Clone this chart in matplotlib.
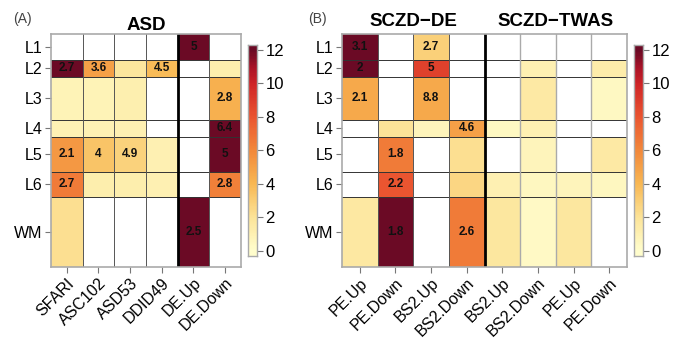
import numpy as np
import matplotlib
matplotlib.use('Agg')
import matplotlib.pyplot as plt
from matplotlib.colors import LinearSegmentedColormap

plt.rcParams['font.family'] = ['Liberation Sans', 'DejaVu Sans']

#capes corticals i gruix relatiu de cada fila
capes = ['L1', 'L2', 'L3', 'L4', 'L5', 'L6', 'WM']
gruix = [26, 17, 43, 17, 35, 25, 70]

#panell A: conjunts de gens ASD
cols_asd = ['SFARI', 'ASC102', 'ASD53', 'DDID49', 'DE.Up', 'DE.Down']
color_asd = [
    [np.nan, np.nan, np.nan, np.nan, 12, np.nan],
    [12, 5.0, 1.8, 3.8, np.nan, 1.2],
    [0.8, 0.8, 1.1, np.nan, np.nan, 4.3],
    [0.9, 0.9, 1.0, np.nan, np.nan, 12],
    [5.3, 3.4, 2.8, 1.0, np.nan, 12],
    [6.5, 1.2, 1.2, 1.0, np.nan, 6.3],
    [2.2, np.nan, np.nan, np.nan, 12, np.nan],
]
text_asd = [
    ['', '', '', '', '5', ''],
    ['2.7', '3.6', '', '4.5', '', ''],
    ['', '', '', '', '', '2.8'],
    ['', '', '', '', '', '6.4'],
    ['2.1', '4', '4.9', '', '', '5'],
    ['2.7', '', '', '', '', '2.8'],
    ['', '', '', '', '2.5', ''],
]

#panell B: SCZD-DE (4 primeres columnes) i SCZD-TWAS (4 darreres)
cols_sczd = ['PE.Up', 'PE.Down', 'BS2.Up', 'BS2.Down',
             'BS2.Up', 'BS2.Down', 'PE.Up', 'PE.Down']
color_sczd = [
    [12, np.nan, 2.9, np.nan, np.nan, np.nan, np.nan, np.nan],
    [12, np.nan, 8.8, np.nan, np.nan, 1.0, np.nan, 1.3],
    [4.6, np.nan, 4.6, np.nan, np.nan, 1.5, np.nan, 0.4],
    [np.nan, 2.0, 0.7, 5.0, 0.4, 1.0, np.nan, np.nan],
    [np.nan, 6.5, np.nan, 2.2, np.nan, 0.7, np.nan, 1.5],
    [np.nan, 8.0, np.nan, 2.6, 1.0, 0.5, 0.7, 0.5],
    [1.6, 12, np.nan, 6.5, 1.7, 0.3, 1.7, np.nan],
]
text_sczd = [
    ['3.1', '', '2.7', '', '', '', '', ''],
    ['2', '', '5', '', '', '', '', ''],
    ['2.1', '', '8.8', '', '', '', '', ''],
    ['', '', '', '4.6', '', '', '', ''],
    ['', '1.8', '', '', '', '', '', ''],
    ['', '2.2', '', '', '', '', '', ''],
    ['', '1.8', '', '2.6', '', '', '', ''],
]

ticks_cbar = [0, 2, 4, 6, 8, 10, 12]

#escala de colors groc -> vermell fosc
nodes = [0, 2, 4, 6, 8, 10, 11, 12]
colors = ['#fffdcc', '#fce397', '#f8b752', '#f2883b', '#ea5530', '#cf2427', '#a81227', '#6b0a25']
cmap = LinearSegmentedColormap.from_list('ylord', [(v / 12, c) for v, c in zip(nodes, colors)])
cmap.set_bad('white')

vores_y = np.concatenate([[0], np.cumsum(gruix)])
centres_y = (vores_y[:-1] + vores_y[1:]) / 2


def dibuixa_heatmap(ax, valors, textos, columnes, gris_dreta=False):
    valors = np.ma.masked_invalid(np.array(valors, dtype=float))
    ncol = len(columnes)
    ax.pcolormesh(np.arange(ncol + 1), vores_y, valors, cmap=cmap, vmin=0, vmax=12)
    ax.set_xlim(0, ncol)
    ax.set_ylim(vores_y[-1], 0)

    #línies de separació
    for y in vores_y[1:-1]:
        ax.plot([0, ncol], [y, y], color='#333333', lw=0.7)
    for x in range(1, ncol):
        c, w = '#555555', 0.7
        if gris_dreta and x > 4:
            c, w = '#aaaaaa', 1.0
        ax.plot([x, x], [0, vores_y[-1]], color=c, lw=w)
    ax.plot([4, 4], [0, vores_y[-1]], color='black', lw=2)

    for i, fila in enumerate(textos):
        for j, t in enumerate(fila):
            if t:
                ax.text(j + 0.5, centres_y[i], t, ha='center', va='center',
                        fontsize=8.5, fontweight='bold', color='#111111')

    ax.set_yticks(centres_y)
    ax.set_yticklabels(capes, fontsize=11.5)
    ax.set_xticks(np.arange(ncol) + 0.5)
    ax.set_xticklabels(columnes, rotation=45, ha='right', va='top',
                       rotation_mode='anchor', fontsize=11.5)
    ax.tick_params(length=4, color='#777777', width=0.8, pad=2)
    for s in ax.spines.values():
        s.set_color('#aaaaaa')
        s.set_linewidth(1.2)


def dibuixa_cbar(ax):
    grad = np.linspace(-0.3, 12.3, 200).reshape(-1, 1)
    ax.pcolormesh([0, 1], np.linspace(-0.3, 12.3, 201), grad, cmap=cmap, vmin=0, vmax=12)
    ax.set_ylim(-0.3, 12.3)
    ax.set_xlim(0, 1)
    ax.set_xticks([])
    ax.yaxis.tick_right()
    ax.set_yticks(ticks_cbar)
    ax.set_yticklabels([str(t) for t in ticks_cbar], fontsize=12)
    ax.tick_params(length=4, color='#777777', width=0.8, pad=2)
    for s in ax.spines.values():
        s.set_color('#aaaaaa')
        s.set_linewidth(1.0)


fig = plt.figure(figsize=(6.79, 3.42), dpi=100)

ax_a = fig.add_axes([0.0751, 0.2193, 0.2798, 0.6813])
dibuixa_heatmap(ax_a, color_asd, text_asd, cols_asd)
ax_a.set_title('ASD', fontsize=13.5, fontweight='bold', pad=3)

ax_b = fig.add_axes([0.5037, 0.2193, 0.4197, 0.6813])
dibuixa_heatmap(ax_b, color_sczd, text_sczd, cols_sczd, gris_dreta=True)
ax_b.text(2, -4, 'SCZD\u2212DE', ha='center', va='bottom', fontsize=13.5, fontweight='bold')
ax_b.text(6, -4, 'SCZD\u2212TWAS', ha='center', va='bottom', fontsize=13.5, fontweight='bold')

cb_a = fig.add_axes([0.3653, 0.2515, 0.0133, 0.617])
dibuixa_cbar(cb_a)
cb_b = fig.add_axes([0.9337, 0.2515, 0.0133, 0.617])
dibuixa_cbar(cb_b)

fig.text(0.019, 0.944, '(A)', fontsize=10, color='#444444', va='center')
fig.text(0.454, 0.944, '(B)', fontsize=10, color='#444444', va='center')

plt.savefig('out.png', dpi=100)
